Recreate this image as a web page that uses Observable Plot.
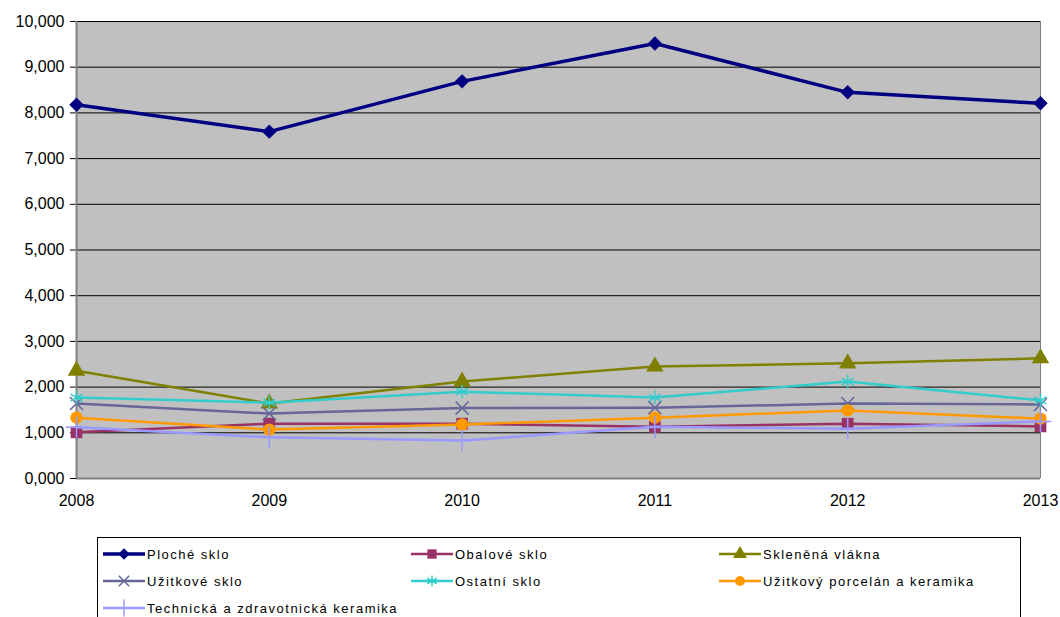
<!DOCTYPE html>
<html>
<head>
<meta charset="utf-8">
<script src="https://cdn.jsdelivr.net/npm/d3@7"></script>
<script src="https://cdn.jsdelivr.net/npm/@observablehq/plot@0.6"></script>
<style>
  html, body { margin: 0; padding: 0; background: #fff; }
  #wrap { position: relative; width: 1060px; height: 617px; overflow: hidden; }
  #legend { position: absolute; left: 97px; top: 537px; width: 924px; height: 100px;
            border: 1px solid #000; box-sizing: border-box; background: #fff;
            font-family: "Liberation Sans", Arial, sans-serif; font-size: 13px; letter-spacing: 1.5px; }
  .item { position: absolute; height: 20px; display: flex; align-items: center; white-space: nowrap; }
  .item svg { margin-right: 2px; }
</style>
</head>
<body>
<div id="wrap"><div id="chart"></div><div id="legend"></div></div>
<script>
const years = [2008, 2009, 2010, 2011, 2012, 2013];
const seriesNames = ["Ploché sklo", "Obalové sklo", "Skleněná vlákna", "Užitkové sklo", "Ostatní sklo", "Užitkový porcelán a keramika", "Technická a zdravotnická keramika"];
const plocheSklo = [8.18, 7.59, 8.69, 9.52, 8.45, 8.21];
const obaloveSklo = [1.01, 1.20, 1.20, 1.13, 1.20, 1.14];
const sklenenaVlakna = [2.36, 1.64, 2.12, 2.45, 2.52, 2.63];
const uzitkoveSklo = [1.64, 1.42, 1.54, 1.55, 1.64, 1.62];
const ostatniSklo = [1.77, 1.66, 1.90, 1.77, 2.12, 1.71];
const uzitkovyPorcelan = [1.33, 1.07, 1.18, 1.33, 1.49, 1.31];
const technickaKeramika = [1.12, 0.90, 0.83, 1.13, 1.09, 1.25];
const yTicks = [0, 1, 2, 3, 4, 5, 6, 7, 8, 9, 10];

const seriesValues = [plocheSklo, obaloveSklo, sklenenaVlakna, uzitkoveSklo, ostatniSklo, uzitkovyPorcelan, technickaKeramika];
const colors = ["#000080", "#993366", "#808000", "#666699", "#33CCCC", "#FF9900", "#9999FF"];
const symbols = ["diamond2", "square", "triangle", "times", "asterisk", "circle", "plus"];
const filled = [true, true, true, false, false, true, false];
const radii = [6.5, 6.6, 6.5, 6, 6.5, 6.2, 7];
const widths = [3.5, 2.5, 2.5, 2.5, 2.5, 2.5, 2.5];

const data = [];
seriesNames.forEach((name, i) => years.forEach((y, j) => data.push({name, i, year: y, value: seriesValues[i][j]})));

const marks = [
  Plot.frame({fill: "#C0C0C0", stroke: null}),
  Plot.ruleY(yTicks.filter(d => d > 0), {stroke: "#000", strokeWidth: 1}),
  Plot.ruleY([0], {stroke: "#808080", strokeWidth: 2}),
  Plot.ruleX([2008], {y1: 0, y2: 10, stroke: "#808080", strokeWidth: 2}),
  Plot.ruleX([2013], {y1: 0, y2: 10, stroke: "#808080", strokeWidth: 1}),
];
seriesNames.forEach((name, i) => {
  const d = data.filter(r => r.i === i);
  marks.push(Plot.line(d, {x: "year", y: "value", stroke: colors[i], strokeWidth: widths[i]}));
  marks.push(Plot.dot(d, {x: "year", y: "value", symbol: symbols[i], r: radii[i],
    fill: filled[i] ? colors[i] : "none", stroke: colors[i], strokeWidth: filled[i] ? 0 : 1.5}));
});

const chart = Plot.plot({
  width: 1060,
  height: 530,
  marginLeft: 76,
  marginRight: 20,
  marginTop: 21,
  marginBottom: 52,
  style: {fontFamily: "'Liberation Sans', Arial, sans-serif", fontSize: "16px", color: "#000", background: "#fff"},
  x: {domain: [2008, 2013], ticks: years, tickFormat: d => String(d), tickSize: 0, tickPadding: 16, label: null},
  y: {domain: [0, 10], ticks: yTicks, tickFormat: d => d.toFixed(3).replace(".", ","), tickSize: 6, tickPadding: 6, label: null},
  marks
});
document.getElementById("chart").appendChild(chart);

// Legend
const legend = d3.select("#legend");
const pos = [[5, 6], [313, 6], [621, 6], [5, 33], [313, 33], [621, 33], [5, 60]];
const symMap = {diamond2: d3.symbolDiamond2, square: d3.symbolSquare, triangle: d3.symbolTriangle,
  times: d3.symbolTimes, asterisk: d3.symbolAsterisk, circle: d3.symbolCircle, plus: d3.symbolPlus};
seriesNames.forEach((name, i) => {
  const item = legend.append("div").attr("class", "item")
    .style("left", pos[i][0] + "px").style("top", pos[i][1] + "px");
  const svg = item.append("svg").attr("width", 42).attr("height", 20);
  svg.append("line").attr("x1", 0).attr("x2", 42).attr("y1", 10).attr("y2", 10)
    .attr("stroke", colors[i]).attr("stroke-width", widths[i]);
  const rr = radii[i] * 0.8;
  svg.append("path").attr("transform", "translate(21,10)")
    .attr("d", d3.symbol(symMap[symbols[i]], Math.PI * rr * rr)())
    .attr("fill", filled[i] ? colors[i] : "none")
    .attr("stroke", colors[i]).attr("stroke-width", filled[i] ? 0 : 1.5);
  item.append("span").text(name);
});
</script>
</body>
</html>
